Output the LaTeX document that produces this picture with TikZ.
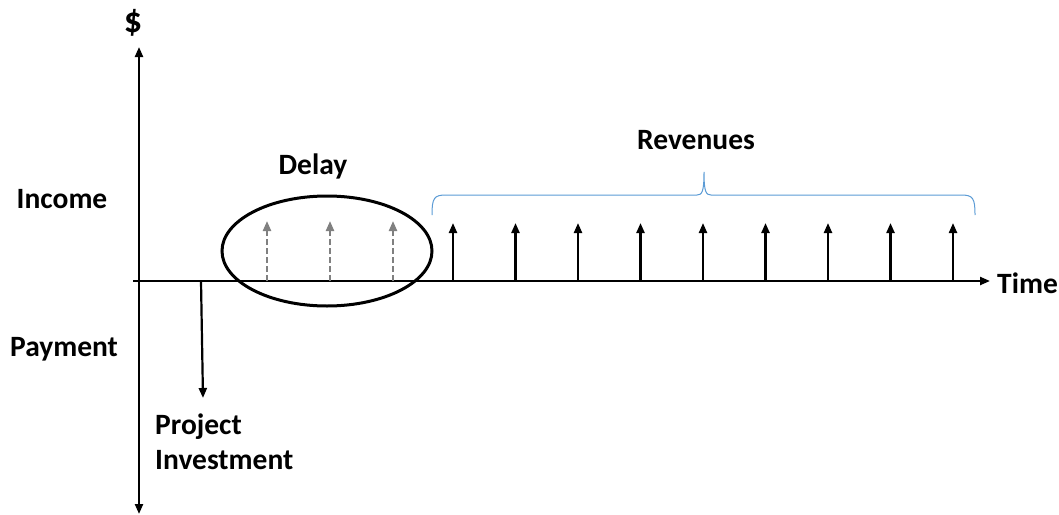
\documentclass[tikz,border=0pt]{standalone}
\usepackage{fontspec}
\setmainfont{Carlito}
\usepackage{tikz}
\usetikzlibrary{arrows.meta, shapes.geometric}

\begin{document}
\begin{tikzpicture}[x=1pt, y=-1pt,
  lbl/.style={font=\bfseries\fontsize{29.5}{35}\selectfont, inner sep=0pt},
  flow/.style={line width=2.2pt, -{Triangle[length=10pt, width=8pt]}},
  delayed/.style={flow, gray, dash pattern=on 6pt off 3pt}]
\useasboundingbox (0,0) rectangle (1059,514);
% axes
\coordinate (y0) at (139,514);
\coordinate (y1) at (139,47);
\coordinate (x0) at (133,281);
\coordinate (x1) at (990,281);
\draw[flow, {Triangle[length=10pt, width=8pt]}-{Triangle[length=10pt, width=8pt]}] (y0) -- (y1);
\draw[flow] (x0) -- (x1);
\node[lbl, font=\bfseries\fontsize{36}{40}\selectfont] (dollar) at (133,23) {\$};
\node[lbl, anchor=west] (time) at (997,283) {Time};
\node[lbl] (income) at (62,199) {Income};
\node[lbl] (payment) at (64,349) {Payment};
% investment
\coordinate (inv0) at (201,281);
\coordinate (inv1) at (203,398);
\draw[flow] (inv0) -- (inv1);
\node[lbl, anchor=north west, align=left] (invest) at (155,414) {Project\\Investment};
% delay
\node[draw, ellipse, line width=3pt, minimum width=210pt, minimum height=110pt] (delay) at (327,251) {};
\node[lbl] (delaylbl) at (313,166) {Delay};
\foreach \i/\x in {1/267,2/330,3/393} {
  \coordinate (d\i) at (\x,281);
  \coordinate (d\i t) at (\x,221);
  \draw[delayed] (d\i) -- (d\i t);
}
% revenues
\foreach \i in {0,...,8} {
  \coordinate (r\i) at (453+62.5*\i,281);
  \coordinate (r\i t) at (453+62.5*\i,223);
  \draw[flow] (r\i) -- (r\i t);
}
\coordinate (bl) at (432,215);
\coordinate (bm) at (704,172);
\coordinate (br) at (975,215);
\draw[color={rgb,255:red,91;green,155;blue,213}, line width=1pt]
  (bl) .. controls (432,198) and (434,195) .. (446,195) -- (697,195)
  .. controls (702,195) and (704,192) .. (bm)
  .. controls (704,192) and (706,195) .. (711,195) -- (961,195)
  .. controls (973,195) and (975,198) .. (br);
\node[lbl] (revenues) at (696,140) {Revenues};
\end{tikzpicture}
\end{document}
